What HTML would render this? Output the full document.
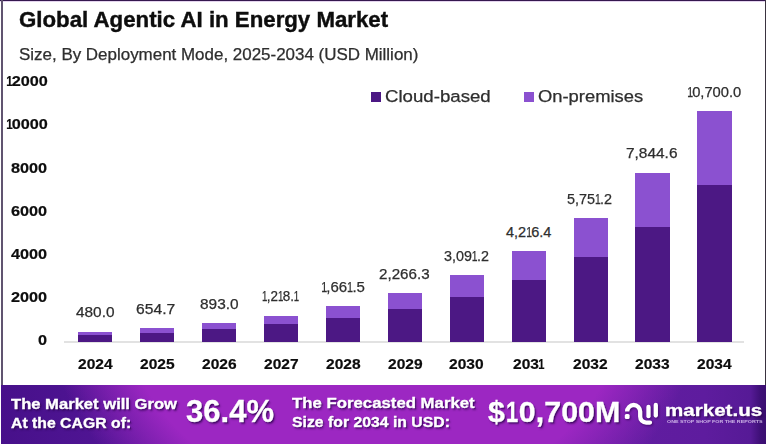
<!DOCTYPE html>
<html><head><meta charset="utf-8">
<style>
html,body{margin:0;padding:0;}
body{width:768px;height:444px;position:relative;overflow:hidden;background:#fff;font-family:"Liberation Sans",sans-serif;}
.t{position:absolute;white-space:nowrap;transform-origin:0 0;}
.o1{display:inline-block;transform:scaleX(.72);margin:0 -1.5px;}
#btop{position:absolute;left:0;top:0;width:766px;height:1px;background:#35184f;box-shadow:0 1px 0 #e4d4ee;}
#bleft{position:absolute;left:1px;top:0;width:2px;height:385px;background:#605470;}
#bright{position:absolute;left:765px;top:0;width:1px;height:385px;background:#3a3340;}
#axis{position:absolute;left:64px;top:341px;width:680px;height:2px;background:#e2e2e2;}
.bar{position:absolute;}
.op{background:#8b51d0;}
.cl{background:#4c1884;}
.sq{position:absolute;width:10.5px;height:10.3px;}
#banner{position:absolute;left:1px;top:385px;width:765px;height:59px;background:radial-gradient(420px 364px at 372px -100px, #9c27c2 0%, #9c27c2 61%, rgba(156,39,194,0.5) 70%, rgba(156,39,194,0) 79%), linear-gradient(90deg,#47108a 0%,#4c1390 8%,#6a1ea8 50%,#5e1c9e 92%,#561a96 98%,#3f1078 99.2%,#3a0e70 100%);}
</style></head><body>
<div id="btop"></div>
<div id="bleft"></div>
<div id="bright"></div>
<div id="axis"></div>
<div class="bar op" style="left:78.00px;top:331.82px;width:34.3px;height:3.30px"></div><div class="bar cl" style="left:78.00px;top:335.12px;width:34.3px;height:6.48px"></div><div class="bar op" style="left:139.94px;top:328.05px;width:34.3px;height:4.50px"></div><div class="bar cl" style="left:139.94px;top:332.55px;width:34.3px;height:9.05px"></div><div class="bar op" style="left:201.88px;top:322.91px;width:34.3px;height:6.13px"></div><div class="bar cl" style="left:201.88px;top:329.04px;width:34.3px;height:12.56px"></div><div class="bar op" style="left:263.82px;top:315.89px;width:34.3px;height:8.36px"></div><div class="bar cl" style="left:263.82px;top:324.25px;width:34.3px;height:17.35px"></div><div class="bar op" style="left:325.76px;top:306.31px;width:34.3px;height:11.41px"></div><div class="bar cl" style="left:325.76px;top:317.72px;width:34.3px;height:23.88px"></div><div class="bar op" style="left:387.70px;top:293.25px;width:34.3px;height:15.56px"></div><div class="bar cl" style="left:387.70px;top:308.81px;width:34.3px;height:32.79px"></div><div class="bar op" style="left:449.64px;top:275.44px;width:34.3px;height:21.23px"></div><div class="bar cl" style="left:449.64px;top:296.67px;width:34.3px;height:44.93px"></div><div class="bar op" style="left:511.58px;top:251.14px;width:34.3px;height:28.95px"></div><div class="bar cl" style="left:511.58px;top:280.09px;width:34.3px;height:61.51px"></div><div class="bar op" style="left:573.52px;top:218.00px;width:34.3px;height:39.49px"></div><div class="bar cl" style="left:573.52px;top:257.49px;width:34.3px;height:84.11px"></div><div class="bar op" style="left:635.46px;top:172.79px;width:34.3px;height:53.87px"></div><div class="bar cl" style="left:635.46px;top:226.66px;width:34.3px;height:114.94px"></div><div class="bar op" style="left:697.40px;top:111.13px;width:34.3px;height:73.48px"></div><div class="bar cl" style="left:697.40px;top:184.61px;width:34.3px;height:156.99px"></div>
<div class="sq" style="left:370.6px;top:91.8px;background:#4c1884"></div>
<div class="sq" style="left:523.8px;top:91.8px;background:#8b51d0"></div>
<div id="banner"></div>
<svg style="position:absolute;left:0;top:0;filter:drop-shadow(1px 1px 1px rgba(45,0,80,0.7))" width="768" height="444">
<g fill='none' stroke='#fff' stroke-width='4.3' stroke-linecap='round'><path d='M627.2 409.8 L627.2 411.5 A6.5 6.5 0 0 1 640.2 411.5 L640.2 416.5 A6 6 0 0 0 646.2 422.6 L650 422.6' /><path d='M648.5 407 L648.5 416.2'/><path d='M655.8 405 L655.8 415.5'/></g><rect x='624.8' y='414' width='4.8' height='5' rx='1.5' fill='#fff'/>
</svg>
<div class="t" style="left:18.99px;top:7.00px;font-size:22px;line-height:25px;font-weight:bold;color:#0d0d0d;transform:scaleX(1.0110);-webkit-text-stroke:0.4px #0d0d0d;">Global Agentic AI in Energy Market</div><div class="t" style="left:18.93px;top:46.00px;font-size:15.8px;line-height:17px;font-weight:normal;color:#2e2e2e;transform:scaleX(1.0728);-webkit-text-stroke:0.25px #2e2e2e;">Size, By Deployment Mode, 2025-2034 (USD Million)</div><div class="t" style="left:5.86px;top:73.25px;font-size:14.5px;line-height:16px;font-weight:bold;color:#0d0d0d;transform:scaleX(1.1200);-webkit-text-stroke:0.2px #0d0d0d;"><span class="o1">1</span>2000</div><div class="t" style="left:5.86px;top:116.44px;font-size:14.5px;line-height:16px;font-weight:bold;color:#0d0d0d;transform:scaleX(1.1200);-webkit-text-stroke:0.2px #0d0d0d;"><span class="o1">1</span>0000</div><div class="t" style="left:11.46px;top:159.63px;font-size:14.5px;line-height:16px;font-weight:bold;color:#0d0d0d;transform:scaleX(1.1200);-webkit-text-stroke:0.2px #0d0d0d;">8000</div><div class="t" style="left:11.46px;top:202.82px;font-size:14.5px;line-height:16px;font-weight:bold;color:#0d0d0d;transform:scaleX(1.1200);-webkit-text-stroke:0.2px #0d0d0d;">6000</div><div class="t" style="left:11.46px;top:246.01px;font-size:14.5px;line-height:16px;font-weight:bold;color:#0d0d0d;transform:scaleX(1.1200);-webkit-text-stroke:0.2px #0d0d0d;">4000</div><div class="t" style="left:11.46px;top:289.20px;font-size:14.5px;line-height:16px;font-weight:bold;color:#0d0d0d;transform:scaleX(1.1200);-webkit-text-stroke:0.2px #0d0d0d;">2000</div><div class="t" style="left:38.34px;top:332.39px;font-size:14.5px;line-height:16px;font-weight:bold;color:#0d0d0d;transform:scaleX(1.1200);-webkit-text-stroke:0.2px #0d0d0d;">0</div><div class="t" style="left:75.80px;top:304.42px;font-size:14.5px;line-height:16px;font-weight:normal;color:#2e2e2e;transform:scaleX(1.0611);-webkit-text-stroke:0.25px #2e2e2e;">480.0</div><div class="t" style="left:77.83px;top:356.00px;font-size:14.8px;line-height:16px;font-weight:bold;color:#0d0d0d;transform:scaleX(1.0500);-webkit-text-stroke:0.2px #0d0d0d;">2024</div><div class="t" style="left:136.42px;top:300.65px;font-size:14.5px;line-height:16px;font-weight:normal;color:#2e2e2e;transform:scaleX(1.0800);-webkit-text-stroke:0.25px #2e2e2e;">654.7</div><div class="t" style="left:139.77px;top:356.00px;font-size:14.8px;line-height:16px;font-weight:bold;color:#0d0d0d;transform:scaleX(1.0500);-webkit-text-stroke:0.2px #0d0d0d;">2025</div><div class="t" style="left:200.00px;top:295.51px;font-size:14.5px;line-height:16px;font-weight:normal;color:#2e2e2e;transform:scaleX(1.0639);-webkit-text-stroke:0.25px #2e2e2e;">893.0</div><div class="t" style="left:201.71px;top:356.00px;font-size:14.8px;line-height:16px;font-weight:bold;color:#0d0d0d;transform:scaleX(1.0500);-webkit-text-stroke:0.2px #0d0d0d;">2026</div><div class="t" style="left:261.57px;top:288.49px;font-size:14.5px;line-height:16px;font-weight:normal;color:#2e2e2e;transform:scaleX(0.9282);-webkit-text-stroke:0.25px #2e2e2e;"><span class="o1">1</span>,2<span class="o1">1</span>8.<span class="o1">1</span></div><div class="t" style="left:263.64px;top:356.00px;font-size:14.8px;line-height:16px;font-weight:bold;color:#0d0d0d;transform:scaleX(1.0500);-webkit-text-stroke:0.2px #0d0d0d;">2027</div><div class="t" style="left:320.66px;top:278.91px;font-size:14.5px;line-height:16px;font-weight:normal;color:#2e2e2e;transform:scaleX(1.0366);-webkit-text-stroke:0.25px #2e2e2e;"><span class="o1">1</span>,66<span class="o1">1</span>.5</div><div class="t" style="left:325.58px;top:356.00px;font-size:14.8px;line-height:16px;font-weight:bold;color:#0d0d0d;transform:scaleX(1.0500);-webkit-text-stroke:0.2px #0d0d0d;">2028</div><div class="t" style="left:378.70px;top:265.85px;font-size:14.5px;line-height:16px;font-weight:normal;color:#2e2e2e;transform:scaleX(1.0457);-webkit-text-stroke:0.25px #2e2e2e;">2,266.3</div><div class="t" style="left:387.52px;top:356.00px;font-size:14.8px;line-height:16px;font-weight:bold;color:#0d0d0d;transform:scaleX(1.0500);-webkit-text-stroke:0.2px #0d0d0d;">2029</div><div class="t" style="left:444.00px;top:248.04px;font-size:14.5px;line-height:16px;font-weight:normal;color:#2e2e2e;transform:scaleX(0.9889);-webkit-text-stroke:0.25px #2e2e2e;">3,09<span class="o1">1</span>.2</div><div class="t" style="left:449.46px;top:356.00px;font-size:14.8px;line-height:16px;font-weight:bold;color:#0d0d0d;transform:scaleX(1.0500);-webkit-text-stroke:0.2px #0d0d0d;">2030</div><div class="t" style="left:506.00px;top:223.74px;font-size:14.5px;line-height:16px;font-weight:normal;color:#2e2e2e;transform:scaleX(1.0000);-webkit-text-stroke:0.25px #2e2e2e;">4,2<span class="o1">1</span>6.4</div><div class="t" style="left:512.98px;top:356.00px;font-size:14.8px;line-height:16px;font-weight:bold;color:#0d0d0d;transform:scaleX(1.0500);-webkit-text-stroke:0.2px #0d0d0d;">203<span class="o1">1</span></div><div class="t" style="left:567.31px;top:190.60px;font-size:14.5px;line-height:16px;font-weight:normal;color:#2e2e2e;transform:scaleX(0.9932);-webkit-text-stroke:0.25px #2e2e2e;">5,75<span class="o1">1</span>.2</div><div class="t" style="left:573.34px;top:356.00px;font-size:14.8px;line-height:16px;font-weight:bold;color:#0d0d0d;transform:scaleX(1.0500);-webkit-text-stroke:0.2px #0d0d0d;">2032</div><div class="t" style="left:625.64px;top:145.39px;font-size:14.5px;line-height:16px;font-weight:normal;color:#2e2e2e;transform:scaleX(1.0638);-webkit-text-stroke:0.25px #2e2e2e;">7,844.6</div><div class="t" style="left:635.28px;top:356.00px;font-size:14.8px;line-height:16px;font-weight:bold;color:#0d0d0d;transform:scaleX(1.0500);-webkit-text-stroke:0.2px #0d0d0d;">2033</div><div class="t" style="left:686.98px;top:83.73px;font-size:14.5px;line-height:16px;font-weight:normal;color:#2e2e2e;transform:scaleX(1.0154);-webkit-text-stroke:0.25px #2e2e2e;"><span class="o1">1</span>0,700.0</div><div class="t" style="left:697.22px;top:356.00px;font-size:14.8px;line-height:16px;font-weight:bold;color:#0d0d0d;transform:scaleX(1.0500);-webkit-text-stroke:0.2px #0d0d0d;">2034</div><div class="t" style="left:384.65px;top:86.70px;font-size:16.3px;line-height:18px;font-weight:normal;color:#2e2e2e;transform:scaleX(1.1451);-webkit-text-stroke:0.25px #2e2e2e;">Cloud-based</div><div class="t" style="left:538.07px;top:86.70px;font-size:16.3px;line-height:18px;font-weight:normal;color:#2e2e2e;transform:scaleX(1.1283);-webkit-text-stroke:0.25px #2e2e2e;">On-premises</div><div class="t" style="left:10.70px;top:394.60px;font-size:15.3px;line-height:17px;font-weight:bold;color:#fff;transform:scaleX(1.0850);text-shadow:1px 1px 0 rgba(50,0,90,0.55),1.5px 1.5px 2px rgba(40,0,70,0.6);-webkit-text-stroke:0.35px #fff;">The Market will Grow</div><div class="t" style="left:10.70px;top:413.50px;font-size:15.3px;line-height:17px;font-weight:bold;color:#fff;transform:scaleX(1.0322);text-shadow:1px 1px 0 rgba(50,0,90,0.55),1.5px 1.5px 2px rgba(40,0,70,0.6);-webkit-text-stroke:0.35px #fff;">At the CAGR of:</div><div class="t" style="left:185.71px;top:393.00px;font-size:31.5px;line-height:36px;font-weight:bold;color:#fff;transform:scaleX(0.9864);text-shadow:1px 1px 0 rgba(50,0,90,0.55),1.5px 1.5px 2px rgba(40,0,70,0.6);-webkit-text-stroke:0.35px #fff;">36.4%</div><div class="t" style="left:291.80px;top:393.80px;font-size:15.3px;line-height:17px;font-weight:bold;color:#fff;transform:scaleX(1.0964);text-shadow:1px 1px 0 rgba(50,0,90,0.55),1.5px 1.5px 2px rgba(40,0,70,0.6);-webkit-text-stroke:0.35px #fff;">The Forecasted Market</div><div class="t" style="left:291.80px;top:412.80px;font-size:15.3px;line-height:17px;font-weight:bold;color:#fff;transform:scaleX(1.0322);text-shadow:1px 1px 0 rgba(50,0,90,0.55),1.5px 1.5px 2px rgba(40,0,70,0.6);-webkit-text-stroke:0.35px #fff;">Size for 2034 in USD:</div><div class="t" style="left:487.50px;top:396.00px;font-size:29.2px;line-height:32px;font-weight:bold;color:#fff;transform:scaleX(1.0440);text-shadow:1px 1px 0 rgba(50,0,90,0.55),1.5px 1.5px 2px rgba(40,0,70,0.6);-webkit-text-stroke:0.35px #fff;">$<span class="o1">1</span>0,700M</div><div class="t" style="left:664.95px;top:401.40px;font-size:16.5px;line-height:18px;font-weight:bold;color:#fff;transform:scaleX(1.2468);text-shadow:1px 1px 0 rgba(50,0,90,0.55),1.5px 1.5px 2px rgba(40,0,70,0.6);-webkit-text-stroke:0.35px #fff;">market.us</div><div class="t" style="left:666.50px;top:419.00px;font-size:4px;line-height:5px;font-weight:bold;color:rgba(240,225,255,0.75);transform:scaleX(1.3264);">ONE STOP SHOP FOR THE REPORTS</div>
</body></html>
